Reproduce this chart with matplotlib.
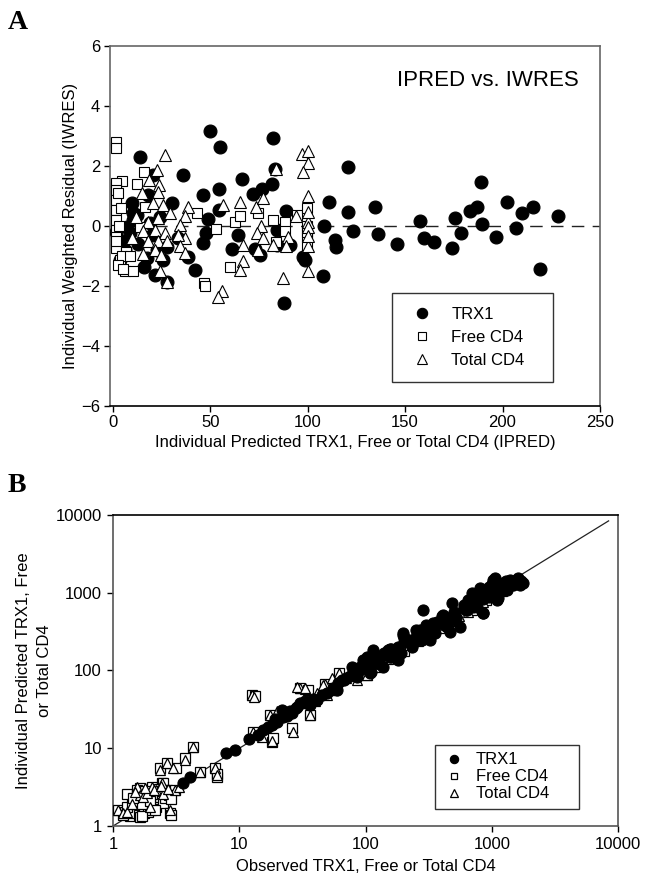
import matplotlib
matplotlib.use("Agg")
import matplotlib.pyplot as plt
import numpy as np

plt.rcParams['font.family'] = ['Liberation Sans', 'DejaVu Sans']

# ---------------- Panel A data (IPRED, IWRES) ----------------
trx1_ipred = [14.2, 49.8, 54.9, 82.3, 35.9, 66.2, 83.5, 81.6, 76.5, 71.9, 54.4, 46.2,
              120.6, 110.9, 120.6, 134.5, 88.8, 30.3, 9.8, 48.8, 54.4, 10.3, 8.7, 47.7,
              64.2, 108.3, 123.2, 114.0, 114.5, 61.1, 75.5, 72.9, 84.2, 97.5, 98.6, 38.5,
              42.1, 15.9, 17.5, 21.6, 27.7, 107.8, 87.8, 136.0, 46.2, 84.2, 90.9, 33.4,
              27.7, 6.2, 3.6, 188.9, 202.3, 215.6, 210.0, 228.4, 183.3, 186.9, 175.6,
              157.6, 189.4, 206.9, 145.8, 159.7, 164.8, 178.6, 174.0, 196.6, 219.2,
              10.3, 7.2, 18.0, 20.5, 19.0, 22.6, 25.7, 12.3, 1.5, 4.5, 13.0, 20.0, 24.0]
trx1_iwres = [2.31, 3.17, 2.64, 2.92, 1.70, 1.57, 1.89, 1.40, 1.23, 1.07, 1.23, 1.03,
              1.97, 0.80, 0.47, 0.63, 0.50, 0.77, 0.77, 0.23, 0.53, 0.20, -0.23, -0.23,
              -0.30, 0.00, -0.17, -0.47, -0.70, -0.77, -0.97, -0.77, -0.13, -1.03, -1.13, -1.03,
              -1.47, -1.37, -1.07, -1.63, -1.87, -1.67, -2.57, -0.27, -0.57, -0.63, -0.63, -0.40,
              -0.70, -0.80, -1.13, 1.47, 0.80, 0.63, 0.43, 0.33, 0.50, 0.63, 0.27,
              0.17, 0.07, -0.07, -0.60, -0.40, -0.53, -0.23, -0.73, -0.37, -1.43,
              0.43, -0.03, 1.03, 1.70, 0.10, -0.80, -1.13, 0.37, -0.20, -0.50, -0.60, -0.30, 0.30]

free_ipred = [1.9, 1.9, 16.1, 4.5, 12.2, 1.9, 1.9, 1.9, 1.9, 1.9, 1.9, 1.9, 1.9, 1.9, 1.9,
              3.6, 6.2, 10.4, 7.0, 16.4, 43.0, 53.2, 62.6, 65.2, 60.0, 46.7, 47.5, 82.0,
              88.3, 88.3, 94.3, 99.7, 99.7, 99.7, 74.6, 4.5, 2.5, 3.0, 4.0, 2.5, 1.5, 5.0,
              99.7, 99.7, 84.0, 9.0, 14.0]
free_iwres = [2.78, 2.60, 1.81, 1.48, 1.40, 1.31, 1.00, 1.42, 1.20, 0.87, 0.53, 0.20, -0.13, -0.36, -0.74,
              -1.13, -1.52, -1.52, -0.86, 0.64, 0.42, -0.10, 0.14, 0.31, -1.36, -1.91, -2.00, 0.20,
              0.14, -0.19, 0.37, 0.59, -0.36, -0.66, 0.42, -1.00, -1.30, 0.00, 0.60, 1.10, -0.50, -1.45,
              0.00, -0.20, -0.55, -1.00, -0.05]

total_ipred = [26.7, 96.9, 100.2, 100.2, 97.6, 22.9, 83.6, 18.6, 23.8, 15.2, 23.3, 100.0,
               56.6, 65.2, 73.4, 77.2, 38.7, 20.7, 25.8, 29.3, 37.0, 34.4, 23.3, 18.1,
               15.6, 21.6, 26.7, 18.1, 23.3, 27.6, 37.0, 33.5, 34.4, 15.6, 21.6, 24.9,
               37.0, 24.1, 27.6, 66.9, 66.9, 65.2, 55.8, 54.1, 87.4, 100.0, 76.3, 73.8,
               77.2, 74.6, 90.0, 89.1, 94.0, 100.3, 100.3, 100.3, 82.3, 100.3, 100.3, 10.0, 12.0]
total_iwres = [2.37, 2.40, 2.50, 2.11, 1.78, 1.87, 1.89, 1.53, 1.37, 1.11, 1.14, 0.98,
               0.70, 0.78, 0.64, 0.92, 0.62, 0.76, 0.70, 0.42, 0.31, 0.03, 0.26, 0.14,
               -0.19, -0.13, -0.24, -0.52, -0.52, -0.52, -0.41, -0.30, -0.69, -0.93, -0.80, -0.97,
               -0.91, -1.52, -1.86, -0.63, -1.19, -1.47, -2.19, -2.36, -1.74, -1.52, -0.02, -0.24,
               -0.41, -0.80, -0.36, -0.69, 0.31, 0.14, -0.05, -0.69, -0.63, 0.45, -0.35, -0.40, 0.30]

# ---------------- Panel B data (observed, predicted) ----------------
trx1_obs = [7.9, 9.2, 4.07, 3.6, 15.5, 21.7, 30.3, 33, 38.5, 45, 55, 80.4, 96, 115, 287, 482,
            1062, 1623, 1778, 652, 807, 324, 199, 232, 182, 151, 138, 560, 857, 1127, 413, 344,
            270, 497, 714, 1482, 60, 70, 90, 100, 110, 120, 130, 150, 160, 180, 200, 220, 250,
            300, 350, 400, 450, 500, 600, 700, 800, 900, 1000, 1100, 1200, 1300, 1400, 1500,
            1600, 1000, 950, 800, 700, 1200, 1300, 600, 400, 300, 250, 200, 140, 125, 105, 95,
            85, 75, 65, 110, 130, 160, 190, 240, 280, 350, 420, 520, 620, 750, 850, 950, 1100,
            1250, 1400, 1550, 1700, 25, 28, 18, 20, 12, 14,
            199, 232, 156, 115, 78, 85, 109, 67, 59, 49, 41, 34, 28.5, 270, 367, 440, 413,
            634, 760, 858, 694, 858, 1028, 1094, 1313, 1675, 1235, 968, 355, 467, 156, 123,
            102, 90, 24, 26, 19, 17, 22, 36]
trx1_pred = [8.6, 9.5, 4.3, 3.55, 17.2, 31, 37.8, 40, 43.6, 48, 60, 106, 136, 166, 600, 731,
             1535, 1535, 1318, 807, 890, 247, 301, 202, 136, 184, 112, 366, 544, 848, 492, 405,
             315, 446, 662, 1259, 70, 80, 100, 110, 130, 125, 150, 160, 190, 200, 230, 250, 270,
             330, 380, 420, 470, 560, 640, 760, 900, 1000, 1100, 1200, 1300, 1400, 1450, 1400,
             1450, 1300, 1200, 1150, 1000, 1100, 1200, 700, 500, 380, 330, 260, 170, 155, 140, 115,
             95, 85, 75, 95, 120, 150, 170, 230, 250, 320, 390, 480, 600, 720, 820, 880, 1000,
             1150, 1300, 1350, 1400, 30, 33, 20, 22, 13, 15,
             286, 213, 187, 184, 112, 83, 92, 75, 56, 51, 42, 38, 34, 332, 425, 366, 517,
             600, 662, 545, 807, 984, 1459, 807, 1084, 1259, 1322, 1084, 301, 315, 151, 124,
             151, 112, 26, 28, 24, 19, 25, 36]

free_obs = [1.1, 1.25, 1.35, 1.45, 1.6, 1.64, 1.75, 1.9, 2.0, 2.2, 1.28, 1.4, 1.5, 1.64, 1.64,
            1.74, 1.85, 1.85, 1.96, 2.02, 2.1, 2.2, 2.36, 2.43, 2.5, 2.5, 2.66, 2.83, 2.9, 3.1,
            3.15, 2.36, 2.66, 3.72, 4.33, 4.89, 6.43, 6.63, 6.6, 12.5, 13.2, 12.9, 18.1, 17.5,
            26, 30.3, 35.2, 36.3, 18.6, 47.8, 55.6, 61, 102, 150, 200, 300, 400, 500, 700, 900,
            1000, 1200, 1500,
            1.3, 1.55, 1.7, 1.8, 2.05, 2.3, 2.6, 2.75, 1.45, 1.95, 2.15, 2.45, 1.2, 1.7, 2.9]
free_pred = [1.6, 1.5, 1.35, 1.46, 1.4, 1.32, 1.45, 1.5, 1.6, 1.77, 1.77, 1.94, 2.1, 2.4, 3.05,
             2.38, 2.16, 2.63, 1.77, 3.2, 2.5, 2.2, 2.38, 3.6, 3.55, 2.0, 2.9, 1.46, 1.4, 2.9,
             5.5, 5.5, 6.4, 7.4, 10.5, 5.0, 5.5, 4.3, 4.6, 48, 47, 16.3, 12.1, 26.8,
             18.1, 59, 56, 26.8, 13.4, 68, 56, 92, 87.5, 140, 180, 260, 380, 430, 600, 800,
             950, 1100, 1300,
             2.6, 2.9, 1.9, 2.8, 2.6, 3.0, 2.3, 2.5, 2.3, 2.1, 1.6, 2.8, 1.4, 1.35, 2.2]

total_obs = [1.1, 1.2, 1.3, 1.41, 1.54, 1.64, 1.74, 1.85, 1.96, 2.02, 2.2, 2.36, 2.43, 2.5,
             2.66, 2.83, 3.0, 3.1, 3.72, 4.33, 4.89, 6.43, 6.63, 12.5, 13.0, 12.9, 15, 18.1,
             17.5, 20, 26.8, 30.3, 33, 36.3, 40, 47.8, 55.6, 61, 70, 85, 102, 120, 140, 180,
             220, 260, 330, 400, 450, 550, 650, 750, 850, 1000, 1200, 1400, 1600,
             28.5, 33, 46, 49, 41, 36, 54, 1.5, 1.8, 2.1, 2.4, 2.7, 3.3]
total_pred = [1.6, 1.45, 1.5, 1.94, 3.2, 2.5, 2.38, 2.63, 1.77, 3.2, 2.9, 5.25, 3.6, 2.6,
              6.4, 1.6, 5.5, 2.9, 7.1, 10.5, 5.0, 5.5, 4.5, 48, 46, 16.3, 14, 12.5,
              26.8, 30, 16.3, 59, 58, 26.8, 40, 68, 56, 92, 80, 75, 87.5, 110, 150, 160,
              210, 240, 300, 350, 420, 500, 560, 700, 750, 900, 1050, 1250, 1350,
              62, 59, 65, 48, 51, 42, 79, 2.7, 3.1, 2.9, 3.3, 3.0, 3.2]

# ---------------- Figure ----------------
fig = plt.figure(figsize=(6.5, 8.82), dpi=100)
axA = fig.add_axes([0.169, 0.540, 0.754, 0.408])
axB = fig.add_axes([0.174, 0.0635, 0.777, 0.3526])

tick_fs = 12
lab_fs = 12

# Panel A
axA.plot(trx1_ipred, trx1_iwres, 'o', ms=9.3, mfc='black', mec='black', mew=0.8,
         ls='none', label='TRX1', zorder=3)
axA.plot(free_ipred, free_iwres, 's', ms=7.6, mfc='white', mec='black', mew=0.8,
         ls='none', label='Free CD4', zorder=4)
axA.plot(total_ipred, total_iwres, '^', ms=8.2, mfc='white', mec='black', mew=0.8,
         ls='none', label='Total CD4', zorder=5)
axA.plot([0, 250], [0, 0], ls=(0, (9, 6)), color='#222222', lw=1.0, zorder=2)

axA.set_xlim(-1.5, 250)
axA.set_ylim(-6, 6)
axA.set_xticks([0, 50, 100, 150, 200, 250])
axA.set_yticks([-6, -4, -2, 0, 2, 4, 6])
axA.tick_params(direction='out', length=4, width=1, labelsize=tick_fs, pad=3)
for s in ['top', 'right', 'left']:
    axA.spines[s].set_color('#666666')
axA.spines['bottom'].set_color('black')
for s in axA.spines.values():
    s.set_linewidth(1.2)
axA.set_xlabel('Individual Predicted TRX1, Free or Total CD4 (IPRED)', fontsize=lab_fs, labelpad=3)
axA.set_ylabel('Individual Weighted Residual (IWRES)', fontsize=lab_fs, labelpad=2)
axA.text(0.957, 0.905, 'IPRED vs. IWRES', transform=axA.transAxes, ha='right',
         va='center', fontsize=16)
legA = axA.legend(loc='lower left', bbox_to_anchor=(0.576, 0.067, 0.328, 0.6),
                  mode='expand', borderaxespad=0.0, frameon=True, fancybox=False,
                  edgecolor='black', fontsize=12, handlelength=2.0, handletextpad=0.75,
                  borderpad=0.8, labelspacing=0.5, markerscale=0.8)
legA.get_frame().set_linewidth(1.0)

# Panel B
axB.plot([1, 8400], [1, 8400], color='#222222', lw=0.9, zorder=2)
hB_free, = axB.plot(free_obs, free_pred, 's', ms=6.6, mfc='white', mec='black', mew=0.9,
                    ls='none', label='Free CD4', zorder=3)
hB_tot, = axB.plot(total_obs, total_pred, '^', ms=7.4, mfc='white', mec='black', mew=0.9,
                   ls='none', label='Total CD4', zorder=4)
hB_trx, = axB.plot(trx1_obs, trx1_pred, 'o', ms=8.0, mfc='black', mec='black', mew=0.8,
                   ls='none', label='TRX1', zorder=5)
axB.set_xscale('log')
axB.set_yscale('log')
axB.set_xlim(1, 10000)
axB.set_ylim(1, 10000)
decades = [1, 10, 100, 1000, 10000]
axB.set_xticks(decades)
axB.set_yticks(decades)
axB.set_xticklabels([str(d) for d in decades])
axB.set_yticklabels([str(d) for d in decades])
axB.minorticks_off()
axB.tick_params(direction='out', length=4, width=1, labelsize=tick_fs, pad=4)
for s in ['right', 'left', 'bottom']:
    axB.spines[s].set_color('#555555')
axB.spines['top'].set_color('black')
for s in axB.spines.values():
    s.set_linewidth(1.2)
axB.set_xlabel('Observed TRX1, Free or Total CD4', fontsize=lab_fs, labelpad=5)
axB.set_ylabel('Individual Predicted TRX1, Free\nor Total CD4', fontsize=lab_fs,
               labelpad=3, linespacing=1.5)
legB = axB.legend(handles=[hB_trx, hB_free, hB_tot], loc='lower left',
                  bbox_to_anchor=(0.637, 0.055, 0.286, 0.2), mode='expand',
                  borderaxespad=0.0, frameon=True, fancybox=False, edgecolor='black',
                  fontsize=12, handlelength=1.4, handletextpad=0.6, borderpad=0.45,
                  labelspacing=0.12, markerscale=0.75)
legB.get_frame().set_linewidth(1.0)

# Panel letters
fig.text(0.012, 0.975, 'A', fontsize=20, fontweight='bold', family='Liberation Serif',
         va='center', ha='left')
fig.text(0.012, 0.449, 'B', fontsize=20, fontweight='bold', family='Liberation Serif',
         va='center', ha='left')

fig.savefig('out.png', dpi=100)
